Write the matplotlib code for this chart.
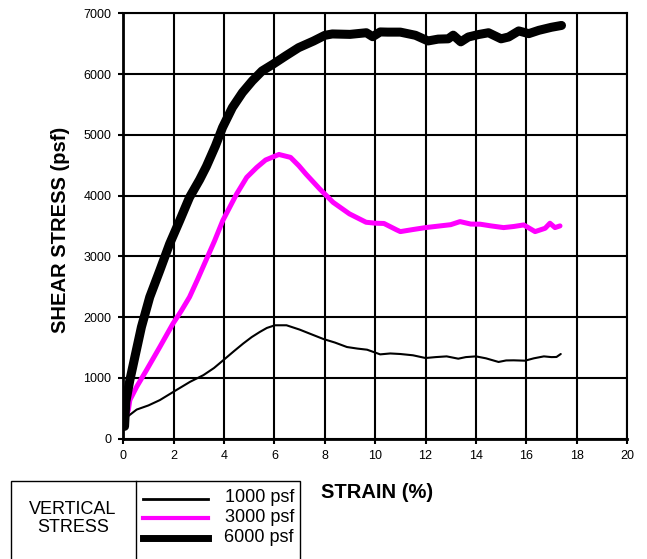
import matplotlib
matplotlib.use("Agg")
import matplotlib.pyplot as plt
from matplotlib.lines import Line2D
from matplotlib.patches import Rectangle

plt.rcParams['font.family'] = ['Liberation Sans', 'DejaVu Sans']

# ---- data (strain %, shear stress psf) ----
strain_1000 = [0.04, 0.13, 0.53, 1.0, 1.45, 2.1, 2.65, 3.18, 3.6, 3.97, 4.4, 4.76, 5.1, 5.42, 5.7,
               6.02, 6.48, 7.0, 7.4, 7.95, 8.4, 8.88, 9.3, 9.68, 10.2, 10.6, 11.0, 11.5,
               12.0, 12.4, 12.84, 13.3, 13.6, 14.0, 14.4, 14.9, 15.2, 15.5, 15.95, 16.3, 16.7,
               17.0, 17.2, 17.37]
stress_1000 = [203, 348, 476, 545, 632, 796, 933, 1043, 1160, 1289, 1440, 1563, 1670, 1754, 1820,
               1864, 1864, 1793, 1727, 1637, 1580, 1506, 1480, 1462, 1385, 1400, 1391, 1370,
               1325, 1340, 1352, 1314, 1340, 1352, 1320, 1260, 1285, 1287, 1281, 1320, 1352,
               1340, 1342, 1391]

strain_3000 = [0.07, 0.2, 0.26, 0.53, 0.92, 1.45, 1.97, 2.3, 2.63, 2.95, 3.28, 3.62, 3.95, 4.5, 4.9,
               5.3, 5.65, 6.18, 6.64, 6.97, 7.25, 7.8, 8.33, 8.98, 9.64, 10.0, 10.35, 10.85, 11.0,
               11.5, 12.0, 12.58, 13.0, 13.37, 13.8, 14.17, 14.6, 15.1, 15.5, 15.9, 16.35, 16.75,
               16.94, 17.14, 17.34]
stress_3000 = [332, 468, 632, 851, 1125, 1507, 1890, 2100, 2329, 2620, 2931, 3250, 3588, 4026, 4299,
               4463, 4585, 4676, 4628, 4491, 4355, 4108, 3888, 3698, 3560, 3545, 3540, 3435, 3406,
               3440, 3472, 3500, 3520, 3571, 3530, 3528, 3500, 3472, 3490, 3516, 3406, 3461,
               3544, 3472, 3500]

strain_6000 = [0.05, 0.1, 0.26, 0.46, 0.72, 1.05, 1.45, 1.84, 2.24, 2.63, 3.03, 3.3, 3.66, 3.94,
               4.33, 4.73, 5.12, 5.51, 5.94, 6.44, 6.96, 7.55, 8.0, 8.3, 9.0, 9.65, 9.9, 10.2,
               10.5, 11.0, 11.6, 12.1, 12.5, 12.9, 13.1, 13.4, 13.7, 14.1, 14.5, 14.7, 15.0,
               15.3, 15.7, 16.1, 16.5, 17.0, 17.4]
stress_6000 = [200, 605, 960, 1343, 1836, 2329, 2767, 3205, 3588, 3971, 4260, 4480, 4819, 5120,
               5448, 5695, 5887, 6051, 6161, 6297, 6434, 6543, 6637, 6660, 6653, 6680, 6615, 6693,
               6690, 6690, 6638, 6545, 6575, 6580, 6640, 6530, 6610, 6650, 6680, 6640, 6580,
               6610, 6710, 6665, 6720, 6770, 6800]

legend_labels = ["1000 psf", "3000 psf", "6000 psf"]
x_ticks = [0, 2, 4, 6, 8, 10, 12, 14, 16, 18, 20]
y_ticks = [0, 1000, 2000, 3000, 4000, 5000, 6000, 7000]

W, H = 647, 559
fig = plt.figure(figsize=(W / 100, H / 100), dpi=100)
ax = fig.add_axes([123.3 / W, (H - 438.5) / H, (627 - 123.3) / W, (438.5 - 13.3) / H])

ax.set_xlim(0, 20)
ax.set_ylim(0, 7000)
ax.set_xticks(x_ticks)
ax.set_yticks(y_ticks)
ax.grid(True, color='black', linewidth=1.5)
ax.set_axisbelow(True)
for s in ['top', 'right']:
    ax.spines[s].set_linewidth(1.5)
for s in ['left', 'bottom']:
    ax.spines[s].set_linewidth(2.0)
ax.tick_params(direction='out', length=3.5, width=1.5, labelsize=9, pad=5, colors='black')

kw = dict(solid_capstyle='round', solid_joinstyle='round')
ax.plot(strain_1000, stress_1000, color='black', lw=1.5, **kw)
ax.plot(strain_3000, stress_3000, color='#FF00FF', lw=3.6, **kw)
ax.plot(strain_6000, stress_6000, color='black', lw=6.5, **kw)

# axis labels
fig.text(377 / W, 1 - 492 / H, "STRAIN (%)", ha='center', va='center',
         fontsize=14.5, fontweight='bold')
fig.text(61 / W, 1 - 230 / H, "SHEAR STRESS (psf)", ha='center', va='center',
         rotation=90, fontsize=14.5, fontweight='bold')

# legend (table-like box)
def fx(px):
    return px / W

def fy(py):
    return 1 - py / H

fig.patches.append(Rectangle((fx(10.5), fy(575)), fx(299.5) - fx(10.5), fy(481) - fy(575),
                             transform=fig.transFigure, fill=False, edgecolor='black', lw=1.0))
fig.lines.append(Line2D([fx(136), fx(136)], [fy(481), fy(575)], transform=fig.transFigure,
                        color='black', lw=1.0))
fig.text(fx(73), fy(510), "VERTICAL", ha='center', va='center', fontsize=13)
fig.text(fx(73), fy(528), "STRESS", ha='center', va='center', fontsize=13)

leg_styles = [dict(color='black', lw=2.0), dict(color='#FF00FF', lw=3.0), dict(color='black', lw=5.0)]
leg_y = [499, 518, 538]
for lab, st, yy in zip(legend_labels, leg_styles, leg_y):
    fig.lines.append(Line2D([fx(143), fx(208)], [fy(yy), fy(yy)], transform=fig.transFigure, **st))
    fig.text(fx(294), fy(yy - 1), lab, ha='right', va='center', fontsize=13)

fig.savefig("out.png", dpi=100)
